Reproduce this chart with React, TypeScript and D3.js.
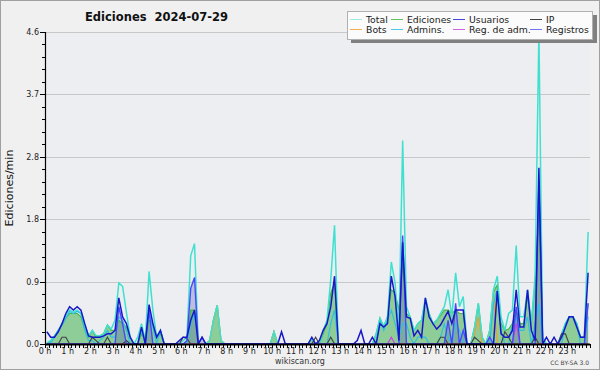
import React from 'react';
import * as d3 from 'd3';

const hourLabels = [
  '0 h', '1 h', '2 h', '3 h', '4 h', '5 h', '6 h', '7 h', '8 h', '9 h', '10 h', '11 h',
  '12 h', '13 h', '14 h', '15 h', '16 h', '17 h', '18 h', '19 h', '20 h', '21 h', '22 h', '23 h',
];
const yTickValues = [0, 0.92, 1.84, 2.76, 3.68, 4.6];
const yTickLabels = ['0.0', '0.9', '1.8', '2.8', '3.7', '4.6'];

// 10-minute bins, 6 per hour
const total = [
  0.02, 0.05, 0.12, 0.2, 0.3, 0.42,
  0.5, 0.47, 0.5, 0.45, 0.28, 0.12,
  0.2, 0.12, 0.12, 0.15, 0.28, 0.22,
  0.35, 0.9, 0.85, 0.47, 0.1, 0,
  0.1, 0.3, 0.05, 1.07, 0.5, 0.1,
  0.2, 0, 0, 0, 0, 0,
  0.05, 0.1, 1.3, 1.48, 0, 0,
  0, 0.05, 0.35, 0.57, 0.05, 0,
  0, 0, 0, 0, 0, 0,
  0, 0, 0, 0, 0, 0,
  0.18, 0, 0, 0, 0, 0,
  0, 0, 0, 0, 0.08, 0,
  0, 0.2, 0.35, 0.95, 1.75, 0,
  0, 0, 0, 0, 0, 0,
  0, 0, 0, 0.15, 0.38, 0.26,
  0.4, 1.21, 0.9, 0.15, 3.0, 0.55,
  0.4, 0.2, 0.3, 0.35, 0.68, 0.45,
  0.3, 0.35, 0.45, 0.55, 0.8, 0.4,
  1.05, 0.55, 0.7, 0, 0, 0.25,
  0.6, 0.1, 0, 0.2, 0.8, 1.0,
  0.4, 0.2, 0.45, 0.5, 1.45, 0.4,
  0.4, 0.8, 0.3, 1.0, 4.6, 0.1,
  0, 0, 0, 0, 0.15, 0.3,
  0.4, 0.4, 0.3, 0.1, 0.1, 1.65,
];

const ediciones = [
  0, 0.05, 0.12, 0.2, 0.28, 0.38,
  0.45, 0.45, 0.45, 0.4, 0.22, 0.1,
  0.2, 0.1, 0.12, 0.15, 0.28, 0.2,
  0.2, 0.35, 0.3, 0.25, 0.1, 0,
  0, 0.15, 0.05, 0.35, 0.3, 0.1,
  0.15, 0, 0, 0, 0, 0,
  0, 0.05, 0.5, 0.5, 0, 0,
  0, 0.05, 0.35, 0.57, 0.05, 0,
  0, 0, 0, 0, 0, 0,
  0, 0, 0, 0, 0, 0,
  0.18, 0, 0, 0, 0, 0,
  0, 0, 0, 0, 0.08, 0,
  0, 0.15, 0.3, 0.75, 0.9, 0,
  0, 0, 0, 0, 0, 0,
  0, 0, 0, 0.15, 0.38, 0.25,
  0.4, 0.8, 0.75, 0.5, 1.2, 0.45,
  0.4, 0.2, 0.3, 0.35, 0.65, 0.45,
  0.3, 0.35, 0.42, 0.5, 0.5, 0.45,
  0.5, 0.45, 0.45, 0, 0, 0.25,
  0.6, 0.1, 0, 0.2, 0.77, 0.87,
  0.3, 0.2, 0.22, 0.3, 0.5, 0.3,
  0.3, 0.7, 0.3, 0.9, 2.0, 0.1,
  0, 0, 0, 0, 0.15, 0.3,
  0.4, 0.4, 0.3, 0.1, 0.1, 0.6,
];

const usuarios = [
  0.18, 0.1, 0.1, 0.18, 0.3, 0.45,
  0.55, 0.5, 0.55, 0.5, 0.3, 0.12,
  0.1, 0.1, 0.1, 0.12, 0.15, 0.15,
  0.2, 0.68, 0.4, 0.3, 0.1, 0,
  0, 0.25, 0, 0.58, 0.3, 0.1,
  0.2, 0, 0, 0, 0, 0.05,
  0.1, 0.1, 0.35, 0.5, 0, 0.1,
  0, 0, 0, 0, 0, 0,
  0, 0, 0, 0, 0, 0,
  0, 0, 0, 0, 0, 0,
  0, 0, 0.18, 0, 0, 0,
  0, 0, 0, 0, 0.1, 0,
  0.05, 0.2, 0.3, 0.55, 1.0, 0,
  0, 0, 0, 0, 0.05, 0.2,
  0, 0, 0.1, 0, 0.3, 0.25,
  0.3, 1.0, 0.7, 0.05, 1.5, 0.4,
  0.38, 0.12, 0.2, 0.1, 0.68, 0.4,
  0.3, 0.22, 0.28, 0.38, 0.48, 0.3,
  0.5, 0.5, 0.5, 0, 0, 0,
  0, 0, 0, 0, 0, 0.78,
  0.15, 0.1, 0.1, 0.2, 0.8, 0.25,
  0.25, 0.8, 0.2, 0.05, 2.6, 0,
  0.1, 0, 0.1, 0, 0.1, 0.25,
  0.4, 0.4, 0.25, 0.1, 0.1, 1.05,
];

const ip = [
  0, 0, 0, 0, 0.1, 0.1,
  0, 0, 0, 0, 0, 0,
  0.1, 0.05, 0, 0, 0.1, 0,
  0, 0, 0, 0.05, 0, 0,
  0, 0, 0, 0, 0, 0,
  0, 0, 0, 0, 0, 0,
  0.1, 0.08, 0, 0, 0, 0,
  0, 0, 0, 0, 0, 0,
  0, 0, 0, 0, 0, 0,
  0, 0, 0, 0, 0, 0,
  0, 0, 0, 0, 0, 0,
  0, 0, 0, 0, 0, 0.1,
  0, 0, 0, 0.1, 0, 0,
  0, 0, 0, 0, 0, 0,
  0, 0, 0, 0, 0, 0,
  0, 0, 0, 0, 0, 0,
  0, 0, 0, 0, 0, 0,
  0, 0, 0.1, 0.1, 0, 0,
  0, 0, 0, 0, 0, 0.1,
  0.05, 0, 0, 0, 0, 0,
  0, 0.18, 0.1, 0, 0, 0,
  0, 0, 0, 0.1, 0, 0,
  0, 0, 0, 0, 0.15, 0.15,
  0, 0, 0, 0, 0, 0,
];

const bots = [
  0, 0, 0, 0, 0, 0,
  0, 0, 0, 0, 0, 0,
  0, 0, 0, 0, 0, 0,
  0, 0, 0, 0, 0, 0,
  0, 0, 0, 0, 0, 0,
  0, 0, 0, 0, 0, 0,
  0, 0, 0, 0, 0, 0,
  0, 0.05, 0.35, 0.57, 0.05, 0,
  0, 0, 0, 0, 0, 0,
  0, 0, 0, 0, 0, 0,
  0.18, 0, 0, 0, 0, 0,
  0, 0, 0, 0, 0, 0,
  0, 0, 0, 0, 0, 0,
  0, 0, 0, 0, 0, 0,
  0, 0, 0, 0, 0, 0,
  0, 0, 0, 0, 0, 0,
  0, 0, 0, 0, 0, 0,
  0, 0, 0, 0, 0, 0,
  0, 0, 0, 0, 0, 0.15,
  0.4, 0, 0, 0.2, 0.7, 0,
  0, 0, 0, 0, 0, 0,
  0, 0, 0, 0, 0, 0,
  0, 0, 0, 0, 0, 0,
  0, 0, 0, 0, 0, 0,
];

const admins = [
  0, 0.02, 0.1, 0.2, 0.28, 0.38,
  0.48, 0.45, 0.48, 0.45, 0.2, 0.05,
  0.05, 0, 0.05, 0.1, 0.2, 0.1,
  0.1, 0.4, 0.35, 0.2, 0, 0,
  0, 0.2, 0, 0.45, 0.25, 0,
  0.2, 0, 0, 0, 0, 0,
  0, 0, 0.3, 0.45, 0, 0,
  0, 0, 0, 0, 0, 0,
  0, 0, 0, 0, 0, 0,
  0, 0, 0, 0, 0, 0,
  0, 0, 0, 0, 0, 0,
  0, 0, 0, 0, 0, 0,
  0, 0, 0, 0.3, 0.5, 0,
  0, 0, 0, 0, 0, 0,
  0, 0, 0, 0, 0.35, 0.2,
  0.35, 0.5, 0.3, 0.1, 0.3, 0.3,
  0.1, 0, 0.1, 0.1, 0.1, 0,
  0, 0, 0.1, 0.3, 0.1, 0,
  0.3, 0.2, 0, 0, 0, 0,
  0, 0, 0, 0, 0.6, 0.8,
  0.2, 0, 0, 0.3, 0.4, 0.2,
  0.2, 0.4, 0, 0.3, 0.6, 0,
  0, 0, 0, 0, 0, 0.3,
  0.4, 0.4, 0.3, 0, 0, 0.4,
];

const regAdm = [
  0, 0, 0, 0, 0, 0, 0, 0, 0, 0, 0, 0, 0, 0, 0, 0, 0, 0, 0, 0, 0, 0, 0, 0,
  0, 0, 0, 0, 0, 0, 0, 0, 0, 0, 0, 0, 0, 0, 0, 0, 0, 0, 0, 0, 0, 0, 0, 0,
  0, 0, 0, 0, 0, 0, 0, 0, 0, 0, 0, 0, 0, 0, 0, 0, 0, 0, 0, 0, 0, 0, 0, 0,
  0, 0, 0, 0, 0, 0, 0, 0, 0, 0, 0, 0, 0, 0, 0, 0, 0, 0, 0, 0.1, 0, 0, 0, 0,
  0, 0, 0, 0, 0, 0, 0, 0, 0, 0, 0, 0, 0, 0, 0, 0, 0, 0, 0, 0, 0, 0, 0, 0,
  0, 0, 0, 0, 0.3, 0, 0, 0, 0, 0, 0, 0, 0, 0, 0, 0, 0, 0, 0, 0, 0, 0, 0, 0,
];

const registros = [
  0, 0, 0, 0, 0, 0,
  0, 0, 0, 0, 0, 0,
  0, 0, 0, 0, 0, 0,
  0, 0.55, 0.3, 0, 0, 0,
  0, 0, 0, 0.5, 0, 0,
  0, 0, 0, 0, 0, 0,
  0, 0.05, 0.82, 0.98, 0, 0.1,
  0, 0, 0, 0, 0, 0,
  0, 0, 0, 0, 0, 0,
  0, 0, 0, 0, 0, 0,
  0, 0, 0, 0, 0, 0,
  0, 0, 0, 0, 0, 0,
  0, 0, 0, 0, 0, 0,
  0, 0, 0, 0, 0, 0,
  0, 0, 0, 0, 0, 0,
  0, 0, 0, 0, 1.6, 0,
  0, 0, 0, 0, 0, 0,
  0, 0, 0, 0, 0.35, 0,
  0.6, 0, 0.2, 0, 0, 0,
  0, 0, 0, 0.1, 0, 0,
  0, 0, 0, 0, 0.55, 0,
  0, 0, 0, 0, 2.4, 0,
  0, 0, 0, 0, 0, 0,
  0, 0, 0, 0, 0, 0.6,
];

const legendNames = ['Total', 'Bots', 'Ediciones', 'Admins.', 'Usuarios', 'Reg. de adm.', 'IP', 'Registros'];
const legendColors = ['#40e0d0', '#f0a030', '#44b844', '#30bfe0', '#2424d4', '#cc44e0', '#222222', '#5a5af5'];

const FONT = 'DejaVu Sans, sans-serif';

export default function App() {
  const left = 45, right = 590, top = 32, bottom = 344;
  const x = d3.scaleLinear().domain([0, 24]).range([left, right]);
  const y = d3.scaleLinear().domain([0, 4.6]).range([bottom, top]);
  const tOf = (i: number) => i / 6 + 1 / 12;
  const lineGen = d3.line<number>().x((_, i) => x(tOf(i))).y((d) => y(d));
  const areaGen = d3.area<number>().x((_, i) => x(tOf(i))).y0(y(0)).y1((d) => y(d));

  const minorY: number[] = [];
  for (let k = 0; k < yTickValues.length - 1; k++) {
    const a = yTickValues[k], b = yTickValues[k + 1];
    for (let j = 1; j < 5; j++) minorY.push(a + ((b - a) * j) / 5);
  }
  const minorX = d3.range(0, 145).map((k) => k / 6);

  const legendCols = [350, 391, 453, 530];
  const legendRows = [19, 29];

  return (
    <svg width={600} height={370} style={{ position: 'absolute', left: 0, top: 0, display: 'block' }} fontFamily={FONT}>
      <defs>
        <clipPath id="plotclip">
          <rect x={left} y={top - 1} width={right - left + 2} height={bottom - top + 1} />
        </clipPath>
      </defs>
      <rect x={0.5} y={0.5} width={599} height={369} fill="#f0f0f0" stroke="#a0a0a0" />
      <rect x={left} y={top} width={right - left} height={bottom - top} fill="#edeef1" />
      {yTickValues.slice(1).map((v, k) => (
        <line key={'g' + k} x1={left} x2={right} y1={Math.round(y(v)) + 0.5} y2={Math.round(y(v)) + 0.5} stroke="#c8c8c8" strokeWidth={1} />
      ))}

      <g clipPath="url(#plotclip)">
        <path d={areaGen(ediciones) || ''} fill="#8fcd98" />
        <path d={areaGen(registros) || ''} fill="#5a6aa8" fillOpacity={0.35} />
        <path d={lineGen(ediciones) || ''} fill="none" stroke="#44b844" strokeWidth={1.2} />
        <path d={lineGen(bots) || ''} fill="none" stroke="#f0a030" strokeWidth={1.3} />
        <path d={lineGen(total) || ''} fill="none" stroke="#40e0d0" strokeWidth={1.5} />
        <path d={lineGen(admins) || ''} fill="none" stroke="#30bfe0" strokeWidth={1.2} />
        <path d={lineGen(ip) || ''} fill="none" stroke="#404040" strokeWidth={1.1} />
        <path d={lineGen(regAdm) || ''} fill="none" stroke="#cc44e0" strokeWidth={1.2} />
        <path d={lineGen(registros) || ''} fill="none" stroke="#4848ff" strokeWidth={1.4} />
        <path d={lineGen(usuarios) || ''} fill="none" stroke="#1818c8" strokeWidth={1.5} />
      </g>

      {/* y axis */}
      <line x1={left + 0.5} x2={left + 0.5} y1={top} y2={bottom} stroke="#000" strokeWidth={1.2} />
      {yTickValues.map((v, k) => (
        <g key={'yt' + k}>
          <line x1={left - 5} x2={left} y1={Math.round(y(v)) + 0.5} y2={Math.round(y(v)) + 0.5} stroke="#000" />
          <text x={39} y={y(v) + 3} fontSize={8} textAnchor="end" fill="#222">{yTickLabels[k]}</text>
        </g>
      ))}
      {minorY.map((v, k) => (
        <line key={'ym' + k} x1={left - 3} x2={left} y1={Math.round(y(v)) + 0.5} y2={Math.round(y(v)) + 0.5} stroke="#000" />
      ))}
      <text transform={`translate(13,${(top + bottom) / 2}) rotate(-90)`} fontSize={11} textAnchor="middle" fill="#111">Ediciones/min</text>

      {/* x axis */}
      <line x1={left} x2={right} y1={bottom + 0.5} y2={bottom + 0.5} stroke="#000" strokeWidth={2} />
      {minorX.map((h, k) => (
        <line key={'xm' + k} x1={Math.round(x(h)) + 0.5} x2={Math.round(x(h)) + 0.5} y1={bottom} y2={bottom + 4} stroke="#000" />
      ))}
      {hourLabels.map((lab, k) => (
        <text key={'xl' + k} x={x(k)} y={353.5} fontSize={8} textAnchor="middle" fill="#222">{lab}</text>
      ))}

      {/* title */}
      <text x={85} y={20.5} fontSize={11.5} fontWeight="bold" fill="#111" style={{ whiteSpace: 'pre' }}>{'Ediciones  2024-07-29'}</text>

      {/* legend */}
      <rect x={351} y={15} width={246} height={28} fill="#808080" />
      <rect x={347.5} y={11.5} width={245} height={28} fill="#fbfbfb" stroke="#b0b0b0" />
      {legendNames.map((name, k) => {
        const cx = legendCols[Math.floor(k / 2)];
        const cy = legendRows[k % 2];
        return (
          <g key={'lg' + k}>
            <line x1={cx} x2={cx + 12} y1={cy + 0.5} y2={cy + 0.5} stroke={legendColors[k]} strokeWidth={1} strokeOpacity={k === 0 ? 0.5 : 0.85} />
            <text x={cx + 16} y={cy + 3.5} fontSize={9.3} fill="#222">{name}</text>
          </g>
        );
      })}

      <text x={300} y={364} fontSize={8} textAnchor="middle" fill="#333">wikiscan.org</text>
      <text x={589} y={365} fontSize={6} textAnchor="end" fill="#444">CC BY-SA 3.0</text>
    </svg>
  );
}
